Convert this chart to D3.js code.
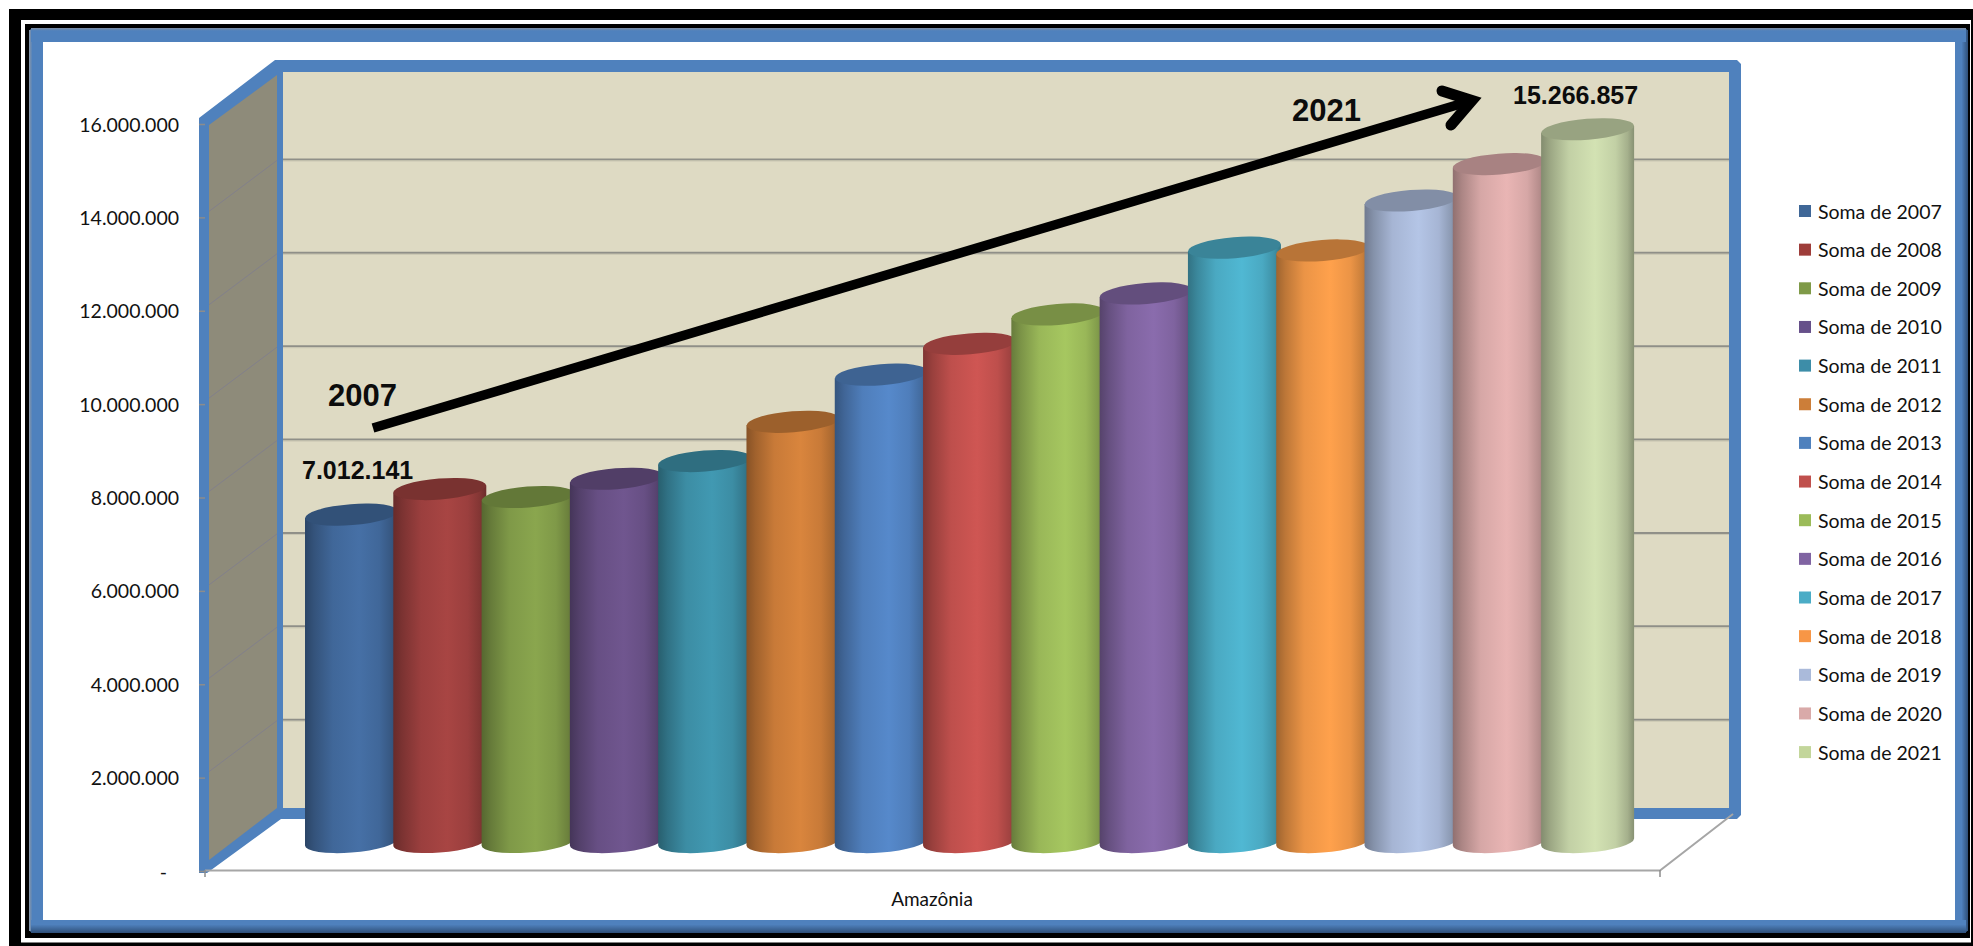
<!DOCTYPE html>
<html lang="pt">
<head>
<meta charset="utf-8">
<title>Amazônia 2007–2021</title>
<script src="https://d3js.org/d3.v7.min.js"></script>
<style>
  html, body { margin: 0; padding: 0; background: #fff; }
  svg { display: block; }
  text { font-family: Lato, "Open Sans", sans-serif; fill: #111; }
  .note { font-family: "Liberation Sans", Arial, sans-serif; font-weight: 700; fill: #0c0c0c; }
</style>
</head>
<body>
<svg id="chart" width="1973" height="946"></svg>
<script>
// Series read per year for the Amazônia category
const years = ["2007","2008","2009","2010","2011","2012","2013","2014","2015","2016","2017","2018","2019","2020","2021"];
const totals = [7012141, 7560000, 7390000, 7780000, 8160000, 9000000, 10010000, 10670000, 11300000, 11750000, 12730000, 12670000, 13740000, 14520000, 15266857];
const legendColors = ["#3F6797","#9E3D3A","#7F9A48","#66508A","#3D8DA8","#CC7E39","#4F81BD","#C0504D","#9BBB59","#8064A2","#4BACC6","#F79646","#AABADA","#D9AAA9","#C3D69B"];
const bodyColors = ["#4670A6","#A84543","#8AA64E","#70568F","#4199B2","#D9853D","#5689CB","#CF5653","#A6C760","#8A6CAD","#50B8D3","#FFA14C","#B4C5E6","#E9B5B4","#D3E2B3"];
const yTicks = [0, 2000000, 4000000, 6000000, 8000000, 10000000, 12000000, 14000000, 16000000];
const categoryLabel = "Amazônia";
const startLabel = "2007", endLabel = "2021";

const svg = d3.select("#chart");
const defs = svg.append("defs");

const ptBR = d3.formatLocale({ decimal: ",", thousands: ".", grouping: [3], currency: ["R$", ""] });
const fmt = ptBR.format(",d");

// Scales: the front axis, the back wall, and the plane the cylinders stand on
const yFront = d3.scaleLinear().domain([0, 16000000]).range([871, 124]);
const yBack = d3.scaleLinear().domain([0, 16000000]).range([813, 66]);
const yBar = d3.scaleLinear().domain([0, 16000000]).range([842, 95]);
const xBar = d3.scaleBand().domain(years).range([305, 1634 - 4.6]).paddingInner(0).paddingOuter(0);

const wall = { left: 283, right: 1729, top: 72, bottom: 808 };
const blue = "#4F81BD";

// Page frame: heavy black rule, thin black rule, then the blue chart border
svg.append("rect").attr("x", 0).attr("y", 0).attr("width", 1973).attr("height", 946).attr("fill", "#fff");
svg.append("rect").attr("x", 9).attr("y", 9).attr("width", 1964).attr("height", 937).attr("fill", "#000");
svg.append("rect").attr("x", 21).attr("y", 20).attr("width", 1950).attr("height", 922.5).attr("fill", "#fff");
svg.append("rect").attr("x", 25).attr("y", 24).attr("width", 1945).attr("height", 914).attr("fill", "#000");

const edge = (id, x1, y1, x2, y2, stops) => {
  const g = defs.append("linearGradient").attr("id", id)
    .attr("x1", x1).attr("y1", y1).attr("x2", x2).attr("y2", y2);
  stops.forEach(([o, c]) => g.append("stop").attr("offset", o).attr("stop-color", c));
};
edge("frameLeft", 0, 0, 1, 0, [[0, "#8c98a8"], [0.25, blue], [1, blue]]);
edge("frameRight", 0, 0, 1, 0, [[0, blue], [0.5, blue], [1, "#2f4f78"]]);
edge("frameTop", 0, 0, 0, 1, [[0, "#7f8ea3"], [0.2, blue], [1, blue]]);
edge("frameBottom", 0, 0, 0, 1, [[0, blue], [0.35, blue], [1, "#2f4f78"]]);

svg.append("rect").attr("x", 29).attr("y", 28).attr("width", 1939).attr("height", 905).attr("rx", 5).attr("fill", blue);
svg.append("rect").attr("x", 29).attr("y", 30).attr("width", 14).attr("height", 901).attr("fill", "url(#frameLeft)");
svg.append("rect").attr("x", 1955).attr("y", 30).attr("width", 13).attr("height", 901).attr("fill", "url(#frameRight)");
svg.append("rect").attr("x", 31).attr("y", 28).attr("width", 1935).attr("height", 14).attr("fill", "url(#frameTop)");
svg.append("rect").attr("x", 31).attr("y", 920).attr("width", 1935).attr("height", 13).attr("fill", "url(#frameBottom)");
svg.append("rect").attr("x", 43).attr("y", 42).attr("width", 1912).attr("height", 878).attr("fill", "#fff");

// Walls of the 3D box
const poly = pts => "M" + pts.map(p => p.join(",")).join("L") + "Z";
svg.append("path").attr("fill", blue)
  .attr("d", poly([[199, 118], [275, 60], [1737, 60], [1741, 64], [1741, 815], [1737, 819], [281, 819], [207, 873], [199, 873]]));
svg.append("rect").attr("x", wall.left).attr("y", wall.top)
  .attr("width", wall.right - wall.left).attr("height", wall.bottom - wall.top).attr("fill", "#DEDAC3");
svg.append("path").attr("fill", "#8E8B7A")
  .attr("d", poly([[209, 125], [277, 75], [277, 808], [209, 860]]));

// Gridlines on the back wall and their continuation along the side wall
const gridVals = yTicks.filter(v => v > 0 && v < 16000000);
svg.append("g").selectAll("line").data(gridVals).join("line")
  .attr("x1", wall.left).attr("x2", wall.right)
  .attr("y1", d => yBack(d)).attr("y2", d => yBack(d))
  .attr("stroke", "#8f8f88").attr("stroke-width", 2);
svg.append("g").selectAll("line").data(gridVals).join("line")
  .attr("x1", wall.left).attr("x2", wall.right)
  .attr("y1", d => yBack(d) + 1.6).attr("y2", d => yBack(d) + 1.6)
  .attr("stroke", "#c9c6b2").attr("stroke-width", 1);
svg.append("g").selectAll("line").data(gridVals).join("line")
  .attr("x1", 209).attr("x2", 277)
  .attr("y1", d => yBack(d) + 52).attr("y2", d => yBack(d) + 1)
  .attr("stroke", "#82808a").attr("stroke-width", 1);

// Floor edges
const floorColor = "#a6a6a6";
svg.append("path").attr("fill", "none").attr("stroke", floorColor).attr("stroke-width", 2)
  .attr("d", "M205,870.5L1660,870.5L1733,814");
svg.append("line").attr("x1", 1660).attr("x2", 1660).attr("y1", 870).attr("y2", 877)
  .attr("stroke", "#8c8c8c").attr("stroke-width", 1.5);
svg.append("line").attr("x1", 205).attr("x2", 205).attr("y1", 870).attr("y2", 877)
  .attr("stroke", "#8c8c8c").attr("stroke-width", 1.5);

// Cylinders, each overlapping the previous one
const barWidth = 93;
const rx = barWidth / 2, ry = 10.5, tilt = -4.55, lean = 3.5;
const shade = (c, k) => { const r = d3.rgb(c); return d3.rgb(r.r * k, r.g * k, r.b * k).formatHex(); };

years.forEach((yr, i) => {
  const g = defs.append("linearGradient").attr("id", "cyl" + yr);
  [[0, 0.62], [0.1, 0.74], [0.3, 0.92], [0.58, 1], [0.8, 0.92], [0.93, 0.78], [1, 0.64]].forEach(([o, k]) =>
    g.append("stop").attr("offset", o).attr("stop-color", shade(bodyColors[i], k)));
});

const bars = svg.append("g").selectAll("g").data(years).join("g");
bars.append("path")
  .attr("fill", d => `url(#cyl${d})`)
  .attr("d", (d, i) => {
    const l = xBar(d), r = l + barWidth, top = yBar(totals[i]), base = yBar(0);
    return `M${l},${top + lean}L${l},${base + lean}` +
      `A${rx},${ry} ${tilt} 0 0 ${r},${base - lean}L${r},${top - lean}Z`;
  });
bars.append("ellipse")
  .attr("rx", rx).attr("ry", ry)
  .attr("transform", (d, i) => `translate(${xBar(d) + barWidth / 2},${yBar(totals[i])}) rotate(${tilt})`)
  .attr("fill", (d, i) => shade(bodyColors[i], 0.72));

// Value axis
const yAxis = d3.axisLeft(yFront).tickValues(yTicks).tickSize(6).tickPadding(20)
  .tickFormat(d => d === 0 ? "-" : fmt(d));
const axisG = svg.append("g").attr("transform", "translate(205,0)").call(yAxis);
axisG.select(".domain").remove();
axisG.selectAll("line").attr("stroke", "#8c8c8c").attr("stroke-width", 1.5);
axisG.selectAll("text").style("font-family", "Lato, sans-serif").style("font-size", "19.5px")
  .attr("fill", "#111").attr("dy", "0.36em");
axisG.selectAll(".tick").filter(d => d === 0).select("text").attr("dx", -12);

// Category label
svg.append("text").attr("x", 932).attr("y", 906).attr("text-anchor", "middle")
  .style("font-size", "19px").text(categoryLabel);

// Legend
const legendY = d3.scalePoint().domain(years).range([205, 205 + 14 * 38.65]);
const leg = svg.append("g").selectAll("g").data(years).join("g")
  .attr("transform", d => `translate(1799,${legendY(d)})`);
leg.append("rect").attr("width", 12).attr("height", 12).attr("fill", (d, i) => legendColors[i]);
leg.append("text").attr("x", 19).attr("y", 13.5).style("font-size", "19.5px").text(d => "Soma de " + d);

// Annotations: first and last totals with the growth arrow
svg.append("text").attr("class", "note").attr("x", 302).attr("y", 479).style("font-size", "25px").text(fmt(totals[0]));
svg.append("text").attr("class", "note").attr("x", 1513).attr("y", 104).style("font-size", "25px").text(fmt(totals[14]));
svg.append("text").attr("class", "note").attr("x", 328).attr("y", 406).style("font-size", "31px").text(startLabel);
svg.append("text").attr("class", "note").attr("x", 1292).attr("y", 121).style("font-size", "31px").text(endLabel);

svg.append("line").attr("x1", 373).attr("y1", 428).attr("x2", 1472).attr("y2", 100.5)
  .attr("stroke", "#000").attr("stroke-width", 9.5);
svg.append("path").attr("fill", "none").attr("stroke", "#000").attr("stroke-width", 11)
  .attr("stroke-linecap", "round").attr("stroke-linejoin", "miter").attr("stroke-miterlimit", 6)
  .attr("d", "M1442,91L1472,100.5L1451,125");
</script>
</body>
</html>
